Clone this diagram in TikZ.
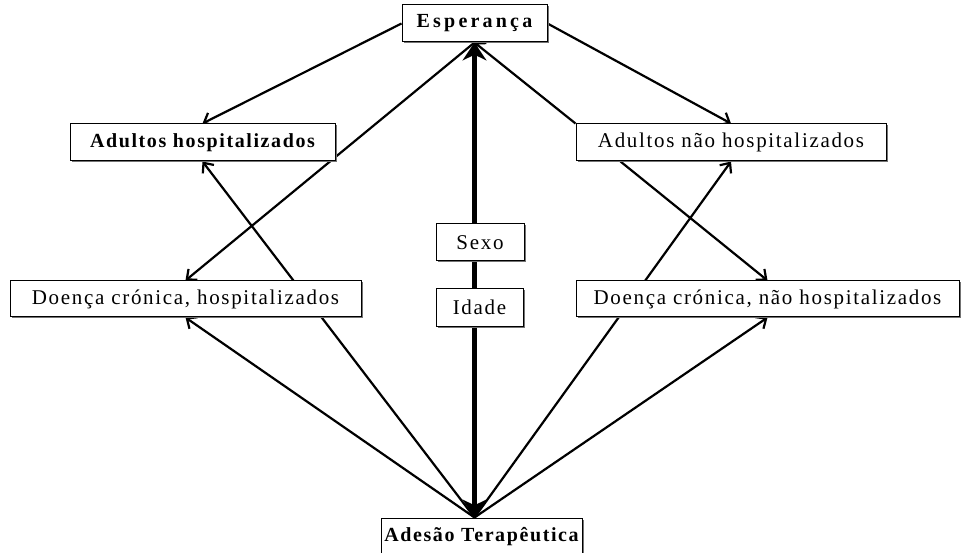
\documentclass[tikz,border=0pt]{standalone}
\usepackage{fontspec}
\setmainfont{Liberation Serif}[LetterSpace=8]
\usetikzlibrary{arrows.meta,shadows,backgrounds,calc}
\tikzset{
  box/.style={draw=black, line width=1pt, fill=white, minimum height=37pt, inner sep=0pt,
    font=\fontsize{21}{23}\selectfont,
    drop shadow={shadow xshift=1.5pt, shadow yshift=-1.5pt, fill=black!55, opacity=1}},
  boldbox/.style={box, font=\fontsize{20}{22}\selectfont\bfseries},
  conn/.style={line width=2.2pt, -{Straight Barb[length=8pt,width=14pt,line width=2.2pt]}},
  bigconn/.style={line width=5.5pt, {Stealth[length=18pt,width=24pt]}-{Stealth[length=18pt,width=24pt]}},
}
\begin{document}
\begin{tikzpicture}[x=1pt,y=-1pt]
\useasboundingbox (0,0) rectangle (961,553);
\node[boldbox, minimum width=145pt] (esp) at (474.5,23.5) {\addfontfeature{LetterSpace=16}Esperança};
\node[boldbox, minimum width=265pt] (adh) at (202.5,142.5) {Adultos hospitalizados};
\node[box, minimum width=310pt] (anh) at (731,142.5) {Adultos não hospitalizados};
\node[box, minimum width=351pt, minimum height=36pt] (dch) at (185.5,299) {Doença crónica, hospitalizados};
\node[box, minimum width=383pt, minimum height=36pt] (dcnh) at (767.5,299) {Doença crónica, não hospitalizados};
\node[box, minimum width=88pt] (sexo) at (480,242.5) {Sexo};
\node[box, minimum width=87pt] (idade) at (479.5,307.5) {Idade};
\node[boldbox, minimum width=201pt] (ades) at (481.5,536.5) {Adesão Terapêutica};
\coordinate (hub) at (esp.south |- ades.north);
\begin{scope}[on background layer]
  \draw[bigconn] (esp.south) -- (hub);
  \draw[conn] (esp.west) -- (adh.north);
  \draw[conn] (esp.east) -- (anh.north);
  \draw[conn] (anh.north west) -- (esp.south);
  \draw[conn] (esp.south) -- (dch.north);
  \draw[conn] ([xshift=45pt]anh.south west) -- (dcnh.north);
  \draw[conn] (hub) -- (adh.south);
  \draw[conn] (hub) -- (dch.south);
  \draw[conn] (hub) -- (anh.south);
  \draw[conn] (hub) -- (dcnh.south);
\end{scope}
\end{tikzpicture}
\end{document}
